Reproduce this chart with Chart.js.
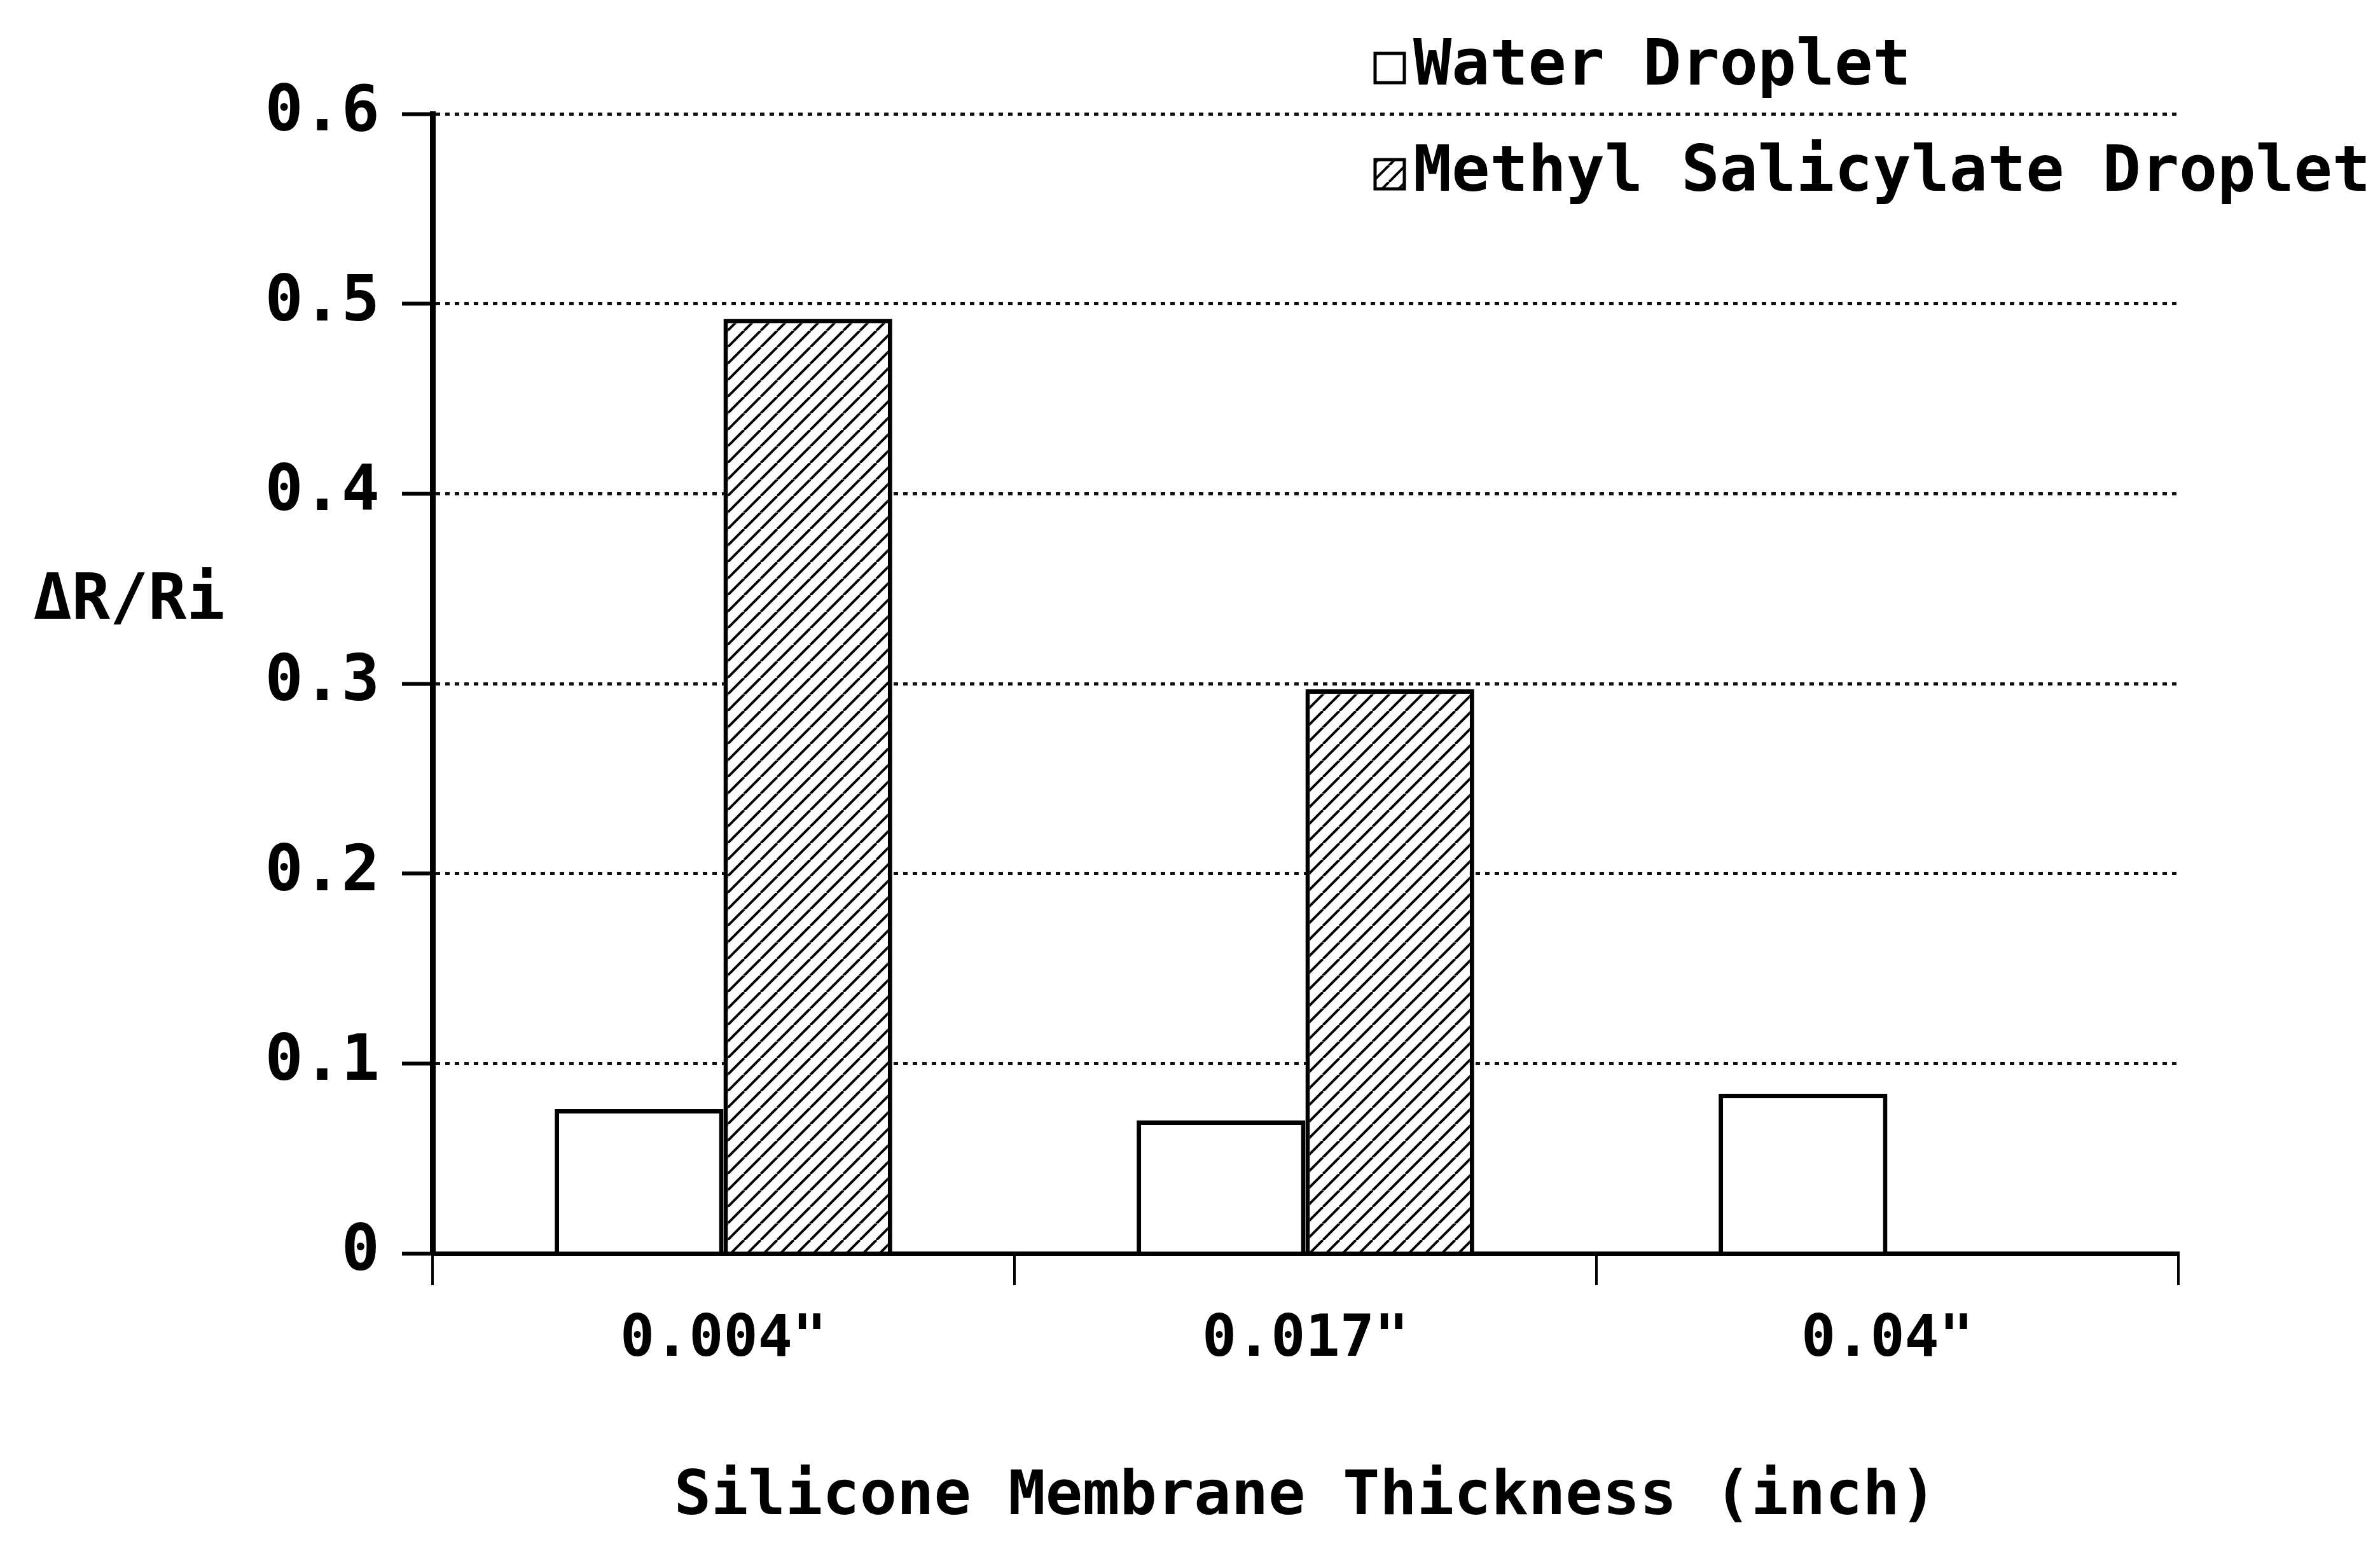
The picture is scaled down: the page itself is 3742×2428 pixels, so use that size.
<!DOCTYPE html>
<html>
<head>
<meta charset="utf-8">
<title>Silicone Membrane Thickness</title>
<script src="https://cdn.jsdelivr.net/npm/chart.js@4.4.1/dist/chart.umd.min.js"></script>
<style>
  html, body { margin: 0; padding: 0; background: #fff; }
  #wrap { width: 3742px; height: 2428px; }
</style>
</head>
<body>
<div id="wrap"><canvas id="chart" width="3742" height="2428"></canvas></div>
<script>
// data
const categories = ['0.004"', '0.017"', '0.04"'];
const waterDroplet = [0.076, 0.070, 0.084];
const methylSalicylate = [0.492, 0.297, null];
const seriesNames = ['Water Droplet', 'Methyl Salicylate Droplet'];
const yTickLabels = ['0', '0.1', '0.2', '0.3', '0.4', '0.5', '0.6'];
const xTitle = 'Silicone Membrane Thickness (inch)';
const yTitle = '\u0394R/Ri';

const FONT = '"DejaVu Sans Mono", "Liberation Mono", monospace';

const canvas = document.getElementById('chart');
const ctx = canvas.getContext('2d');

// diagonal hatch for the second series
function makeHatch() {
  const s = 26;
  const c = document.createElement('canvas');
  c.width = s;
  c.height = s;
  const g = c.getContext('2d');
  g.fillStyle = '#fff';
  g.fillRect(0, 0, s, s);
  g.strokeStyle = '#000';
  g.lineWidth = 4;
  g.beginPath();
  for (let k = -1; k <= 1; k++) {
    g.moveTo(k * s, s);
    g.lineTo(k * s + s, 0);
  }
  g.stroke();
  return ctx.createPattern(c, 'repeat');
}
const hatch = makeHatch();

// stacked legend top right + horizontal y title
const sideLegend = {
  id: 'sideLegend',
  afterDraw(chart) {
    const c = chart.ctx;
    c.save();
    c.font = 'bold 100px ' + FONT;
    c.textBaseline = 'middle';
    c.textAlign = 'left';
    chart.data.datasets.forEach((ds, i) => {
      const y = 107 + i * 167;
      c.fillStyle = ds.backgroundColor;
      c.fillRect(2162, y - 23, 46, 46);
      c.lineWidth = 5;
      c.strokeStyle = '#000';
      c.strokeRect(2162, y - 23, 46, 46);
      c.fillStyle = '#000';
      c.fillText(ds.label, 2222, y);
    });
    c.textAlign = 'center';
    c.fillText(yTitle, 203, 947);
    c.restore();
  }
};

const myChart = new Chart(ctx, {
  type: 'bar',
  data: {
    labels: categories,
    datasets: [
      {
        label: seriesNames[0],
        data: waterDroplet,
        backgroundColor: '#fff',
        borderColor: '#000',
        borderWidth: 7,
      },
      {
        label: seriesNames[1],
        data: methylSalicylate,
        backgroundColor: hatch,
        borderColor: '#000',
        borderWidth: 7,
      },
    ],
  },
  options: {
    responsive: false,
    animation: false,
    devicePixelRatio: 1,
    layout: { padding: { top: 179, right: 317, left: 0, bottom: 0 } },
    datasets: { bar: { categoryPercentage: 0.58, barPercentage: 1.0 } },
    plugins: {
      legend: { display: false },
      tooltip: { enabled: false },
    },
    scales: {
      x: {
        grid: {
          drawOnChartArea: false,
          drawTicks: true,
          tickLength: 50,
          color: '#000',
          lineWidth: 4,
          offset: true,
        },
        border: { display: true, color: '#000', width: 7 },
        ticks: {
          color: '#000',
          font: { family: FONT, weight: 'bold', size: 90 },
          padding: 34,
          maxRotation: 0,
        },
        title: {
          display: true,
          text: xTitle,
          color: '#000',
          font: { family: FONT, weight: 'bold', size: 97 },
          padding: { top: 0, bottom: 14 },
        },
        afterFit(scale) {
          scale.height = 457;
        },
      },
      y: {
        min: 0,
        max: 0.6,
        ticks: {
          stepSize: 0.1,
          color: '#000',
          font: { family: FONT, weight: 'bold', size: 100 },
          padding: 35,
          callback: (v, i) => yTickLabels[i],
        },
        grid: {
          color: '#111',
          lineWidth: 5,
          tickLength: 48,
          tickColor: '#000',
          tickWidth: 6,
          tickBorderDash: [],
        },
        border: { display: true, color: '#000', width: 9, dash: [7, 8] },
        afterFit(scale) {
          scale.width = 680;
        },
      },
    },
  },
  plugins: [sideLegend],
});
</script>
</body>
</html>
